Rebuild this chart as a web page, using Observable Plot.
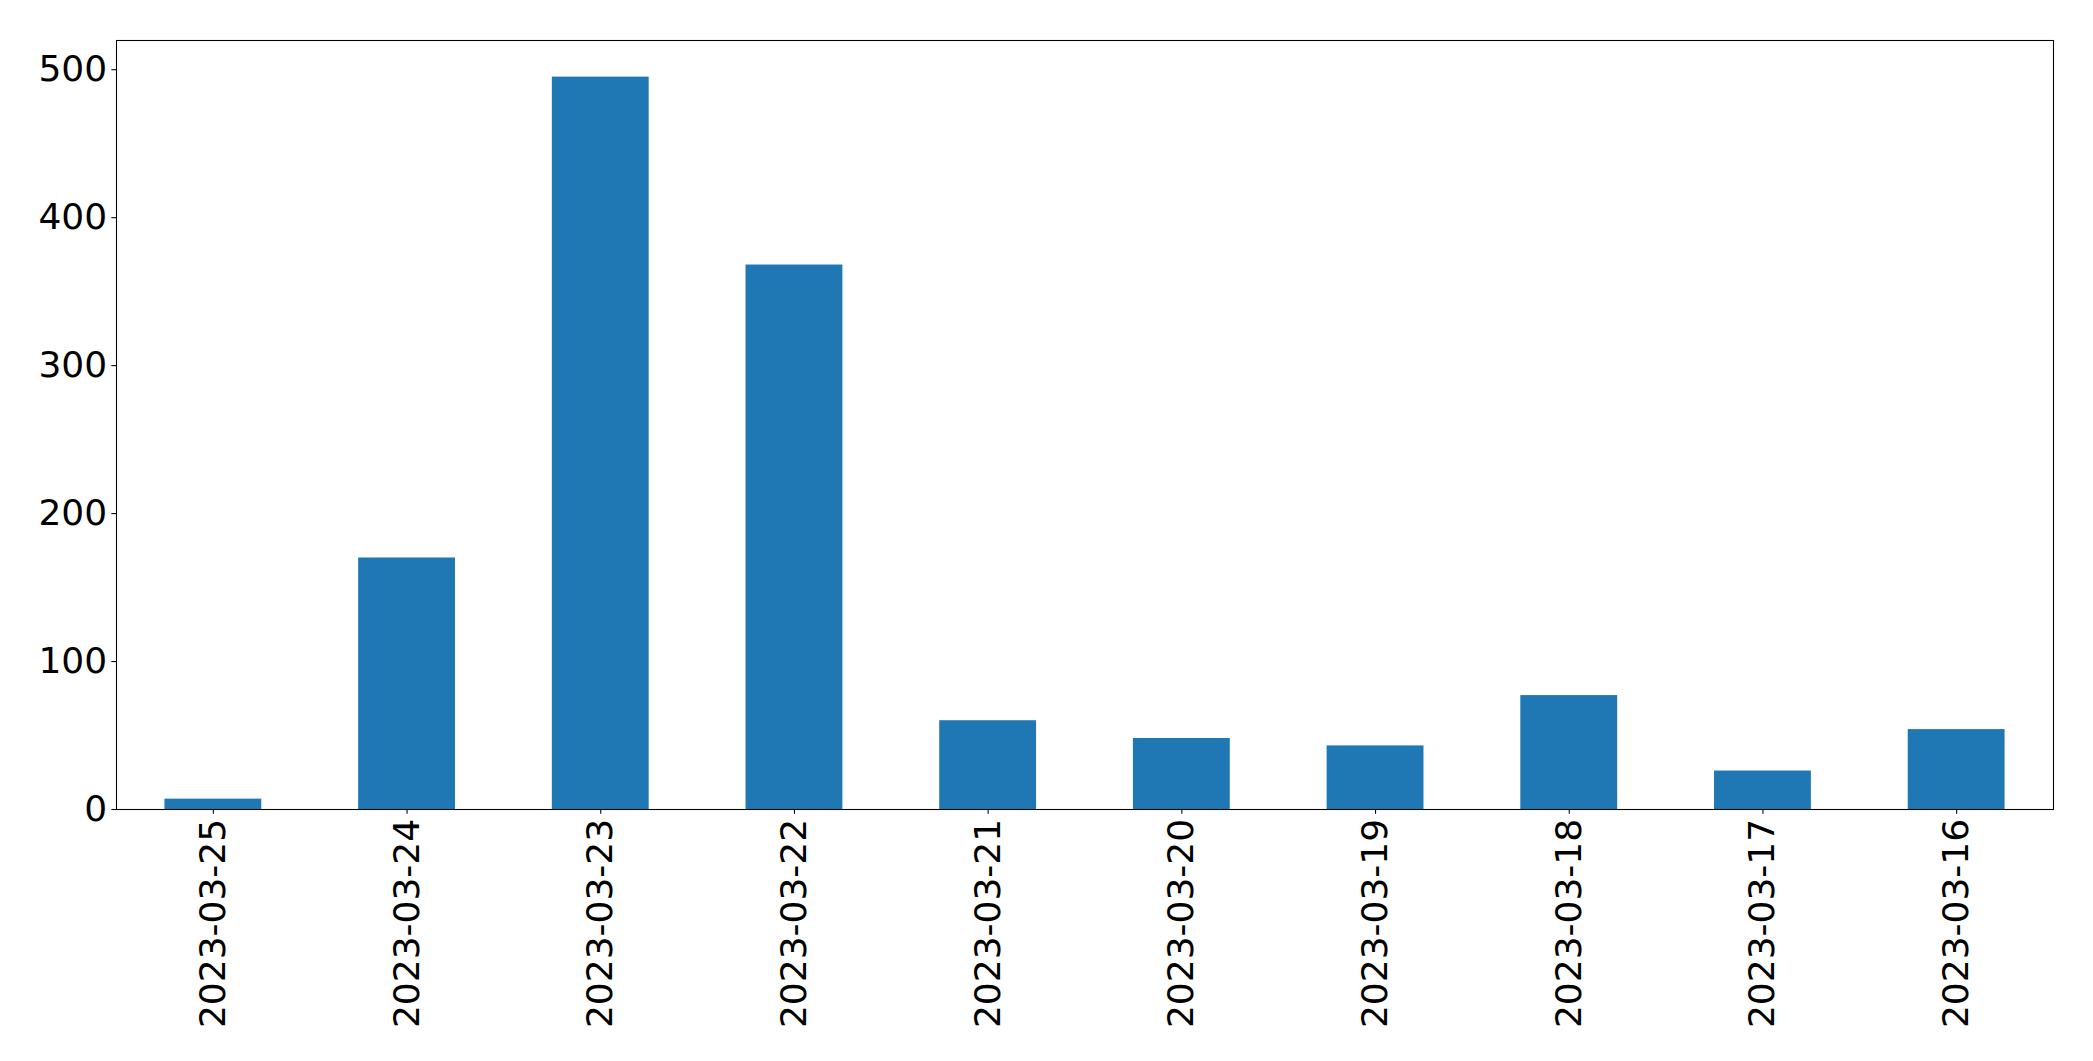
<!DOCTYPE html>
<html>
<head>
<meta charset="utf-8">
<script src="https://cdn.jsdelivr.net/npm/d3@7"></script>
<script src="https://cdn.jsdelivr.net/npm/@observablehq/plot@0.6"></script>
<style>
  html, body { margin: 0; padding: 0; background: #fff; }
  svg { display: block; }
</style>
</head>
<body>
<div id="chart"></div>
<script>
const dates = ["2023-03-25", "2023-03-24", "2023-03-23", "2023-03-22", "2023-03-21",
               "2023-03-20", "2023-03-19", "2023-03-18", "2023-03-17", "2023-03-16"];
const counts = [7, 170, 495, 368, 60, 48, 43, 77, 26, 54];
const yTicks = [0, 100, 200, 300, 400, 500];

const data = dates.map((d, i) => ({date: d, count: counts[i]}));
const ymax = d3.max(counts) * 1.05;

const chart = Plot.plot({
  width: 2093,
  height: 1061,
  marginLeft: 116,
  marginRight: 40,
  marginTop: 40,
  marginBottom: 252,
  style: {fontFamily: "DejaVu Sans", fontSize: "36px", color: "black", background: "white"},
  x: {domain: dates, paddingInner: 0.5, paddingOuter: 0.25, round: false, label: null},
  y: {domain: [0, ymax], label: null},
  marks: [
    Plot.barY(data, {x: "date", y: "count", fill: "#1f77b4"}),
    Plot.axisY({ticks: yTicks, tickSize: 4.67, tickPadding: 4.67, strokeWidth: 1.07, fontSize: 36, label: null}),
    Plot.axisX({tickSize: 4.67, tickPadding: 4.67, tickRotate: -90, strokeWidth: 1.07, fontSize: 36, label: null}),
    Plot.frame({stroke: "black", strokeWidth: 1.07})
  ]
});
document.getElementById("chart").appendChild(chart);
</script>
</body>
</html>
